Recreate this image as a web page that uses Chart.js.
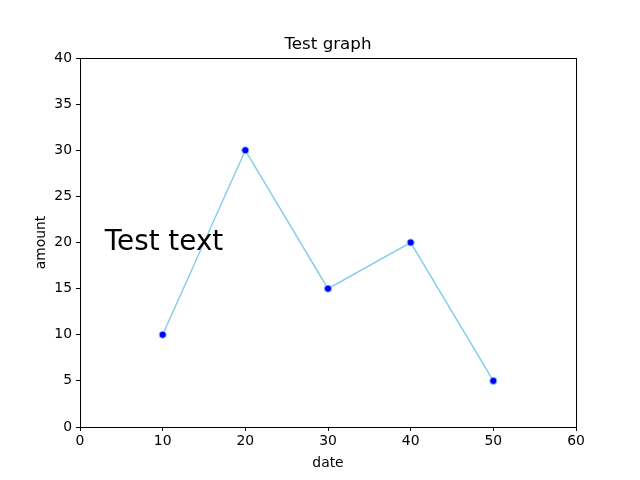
<!DOCTYPE html>
<html>
<head>
<meta charset="utf-8">
<script src="https://cdn.jsdelivr.net/npm/chart.js@4/dist/chart.umd.min.js"></script>
<style>
  html, body { margin: 0; padding: 0; background: #fff; }
  #wrap { width: 640px; height: 480px; }
</style>
</head>
<body>
<div id="wrap"><canvas id="myChart" width="640" height="480"></canvas></div>
<script>
// data
const dates = [10, 20, 30, 40, 50];
const amounts = [10, 30, 15, 20, 5];
const xTicks = [0, 10, 20, 30, 40, 50, 60];
const yTicks = [0, 5, 10, 15, 20, 25, 30, 35, 40];
const titleText = 'Test graph';
const xLabel = 'date';
const yLabel = 'amount';
const note = { x: 3, y: 20, text: 'Test text' };

const font = 'DejaVu Sans';

// frame, titles and the free text note
const extras = {
    id: 'extras',
    afterDraw(chart) {
        const ctx = chart.ctx;
        const a = chart.chartArea;
        const xs = chart.scales.x;
        const ys = chart.scales.y;
        ctx.save();
        ctx.strokeStyle = '#000';
        ctx.lineWidth = 1;
        ctx.strokeRect(Math.round(a.left) + 0.5, Math.round(a.top) + 0.5,
            Math.round(a.right - a.left), Math.round(a.bottom - a.top));

        ctx.fillStyle = '#000';
        ctx.textAlign = 'center';
        ctx.textBaseline = 'alphabetic';
        ctx.font = '16.7px "' + font + '"';
        ctx.fillText(titleText, (a.left + a.right) / 2, a.top - 9);

        ctx.font = '13.9px "' + font + '"';
        ctx.fillText(xLabel, (a.left + a.right) / 2, a.bottom + 40);

        ctx.save();
        ctx.translate(a.left - 35, (a.top + a.bottom) / 2);
        ctx.rotate(-Math.PI / 2);
        ctx.fillText(yLabel, 0, 0);
        ctx.restore();

        ctx.textAlign = 'left';
        ctx.font = '27.8px "' + font + '"';
        ctx.fillText(note.text, xs.getPixelForValue(note.x), ys.getPixelForValue(note.y) + 7);
        ctx.restore();
    }
};

const data = {
    datasets: [{
        label: 'amount',
        data: dates.map((d, i) => ({ x: d, y: amounts[i] })),
        borderColor: '#87CEEB',
        borderWidth: 1.5,
        backgroundColor: 'blue',
        pointBackgroundColor: 'blue',
        pointBorderColor: '#87CEEB',
        pointBorderWidth: 1,
        pointRadius: 3.6,
        tension: 0
    }]
};

const tickFont = { family: font, size: 13.9 };

const config = {
    type: 'line',
    data,
    options: {
        responsive: false,
        animation: false,
        layout: { padding: { left: 0, right: 64, top: 58, bottom: 0 } },
        plugins: {
            legend: { display: false },
            tooltip: { enabled: false },
            title: { display: false }
        },
        scales: {
            x: {
                type: 'linear',
                min: xTicks[0],
                max: xTicks[xTicks.length - 1],
                afterBuildTicks: s => { s.ticks = xTicks.map(v => ({ value: v })); },
                afterFit: s => { s.height = 53; },
                ticks: { color: '#000', font: tickFont, padding: 2, maxRotation: 0 },
                grid: { drawOnChartArea: false, drawTicks: true, tickLength: 4, color: '#000' },
                border: { display: true, color: '#000' }
            },
            y: {
                type: 'linear',
                min: yTicks[0],
                max: yTicks[yTicks.length - 1],
                afterBuildTicks: s => { s.ticks = yTicks.map(v => ({ value: v })); },
                afterFit: s => { s.width = 80; },
                ticks: { color: '#000', font: tickFont, padding: 4 },
                grid: { drawOnChartArea: false, drawTicks: true, tickLength: 4, color: '#000' },
                border: { display: true, color: '#000' }
            }
        }
    },
    plugins: [extras]
};

var myChart = new Chart(document.getElementById('myChart'), config);
</script>
</body>
</html>
